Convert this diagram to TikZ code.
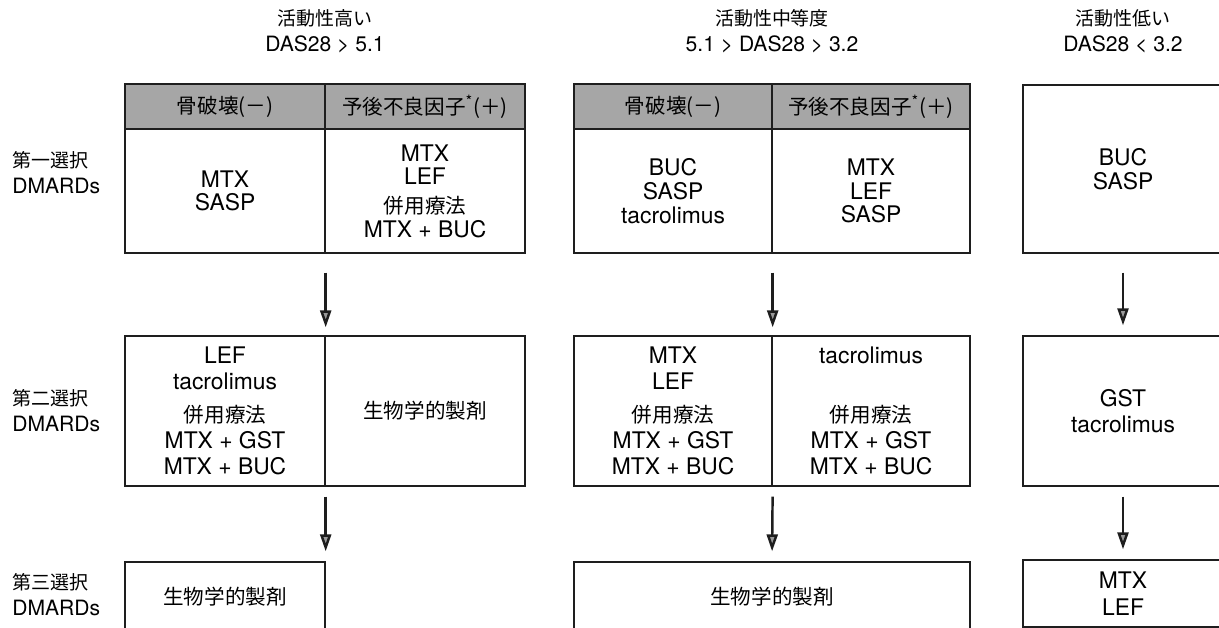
\documentclass[tikz,border=0pt]{standalone}
\usepackage{fontspec}
\setmainfont{TeX Gyre Heros}
\newfontfamily\jp[Scale=0.9]{Noto Sans CJK JP}
\usepackage{tikz}
\usetikzlibrary{positioning,arrows.meta}
\definecolor{tline}{HTML}{1E1E1E}
\definecolor{theadfill}{HTML}{A6A6A6}
\definecolor{ttipfill}{HTML}{9A9A9A}
\tikzset{tcell/.style={rectangle, draw=tline, line width=0.8pt, inner sep=0pt, align=center, font=\fontsize{13}{13.5}\selectfont}}
\tikzset{tcellwide/.style={tcell, font=\fontsize{13}{15}\selectfont}}
\tikzset{thead/.style={tcell, fill=theadfill, minimum height=0.9cm, font=\fontsize{13}{13}\selectfont\jp}}
\tikzset{ttitle/.style={align=center, inner sep=0pt, font=\fontsize{12}{14.7}\selectfont}}
\tikzset{trow/.style={align=left, anchor=west, inner sep=0pt, font=\fontsize{12}{14.7}\selectfont}}
\tikzset{tedge/.style={-{Triangle[length=0.34cm, width=0.22cm, fill=ttipfill]}, draw=tline, line width=1.4pt}}

\begin{document}
\begin{tikzpicture}[x=0.02cm, y=-0.02cm]
  \clip (0,0) rectangle (1219,628);

  \node[ttitle] (hititle) at (325,31) {{\jp 活動性高い}\\DAS28 > 5.1};
  \node[ttitle] (midtitle) at (772,31) {{\jp 活動性中等度}\\5.1 > DAS28 > 3.2};
  \node[ttitle] (lotitle) at (1123,31) {{\jp 活動性低い}\\DAS28 < 3.2};

  \node[trow] (first) at (12,173) {{\jp 第一選択}\\DMARDs};
  \node[trow] (second) at (12,411) {{\jp 第二選択}\\DMARDs};
  \node[trow] (third) at (12,595) {{\jp 第三選択}\\DMARDs};

  \node[thead, minimum width=4cm] (hiheada) at (225,106.5) {骨破壊(－)};
  \node[thead, minimum width=4cm] (hiheadb) at (425,106.5) {予後不良因子\textsuperscript{*}(＋)};
  \node[tcell, minimum width=4cm, minimum height=2.48cm] (hibodya) at (225,191) {MTX\\SASP};
  \node[tcell, minimum width=4cm, minimum height=2.48cm] (hibodyb) at (425,191) {MTX\\LEF\\[0.1cm]{\jp 併用療法}\\MTX + BUC};
  \node[tcellwide, minimum width=4cm, minimum height=3cm] (hisecda) at (225,411) {LEF\\tacrolimus\\[0.12cm]{\jp 併用療法}\\MTX + GST\\MTX + BUC};
  \node[tcellwide, minimum width=4cm, minimum height=3cm] (hisecdb) at (425,411) {\jp 生物学的製剤};
  \node[tcell, minimum width=4cm, minimum height=1.4cm] (hithird) at (225,597) {\jp 生物学的製剤};

  \node[thead, minimum width=3.96cm] (midheada) at (673,106.5) {骨破壊(－)};
  \node[thead, minimum width=3.96cm] (midheadb) at (871,106.5) {予後不良因子\textsuperscript{*}(＋)};
  \node[tcell, minimum width=3.96cm, minimum height=2.48cm] (midbodya) at (673,191) {BUC\\SASP\\tacrolimus};
  \node[tcell, minimum width=3.96cm, minimum height=2.48cm] (midbodyb) at (871,191) {MTX\\LEF\\SASP};
  \node[tcellwide, minimum width=3.96cm, minimum height=3cm] (midsecda) at (673,411) {MTX\\LEF\\[0.12cm]{\jp 併用療法}\\MTX + GST\\MTX + BUC};
  \node[tcellwide, minimum width=3.96cm, minimum height=3cm] (midsecdb) at (871,411) {tacrolimus\\\mbox{}\\[0.12cm]{\jp 併用療法}\\MTX + GST\\MTX + BUC};
  \node[tcell, minimum width=7.92cm, minimum height=1.4cm] (midthird) at (772,597) {\jp 生物学的製剤};

  \node[tcell, minimum width=4cm, minimum height=3.36cm] (lofirst) at (1123,169) {BUC\\SASP};
  \node[tcellwide, minimum width=4cm, minimum height=3cm] (losecd) at (1123,411) {GST\\tacrolimus};
  \node[tcellwide, minimum width=4cm, minimum height=1.34cm] (lothird) at (1123,593.5) {MTX\\LEF};

  \draw[tedge, shorten <=0.38cm, shorten >=0.16cm] (hibodya.south east) -- (hisecda.north east);
  \draw[tedge, shorten <=0.2cm, shorten >=0.2cm] (hisecda.south east) -- (hithird.north east);
  \draw[tedge, shorten <=0.38cm, shorten >=0.16cm] (midbodya.south east) -- (midsecda.north east);
  \draw[tedge, shorten <=0.2cm, shorten >=0.2cm] (midsecda.south east) -- (midthird.north);
  \draw[tedge, shorten <=0.38cm, shorten >=0.2cm] (lofirst.south) -- (losecd.north);
  \draw[tedge, shorten <=0.2cm, shorten >=0.2cm] (losecd.south) -- (lothird.north);
\end{tikzpicture}
\end{document}
